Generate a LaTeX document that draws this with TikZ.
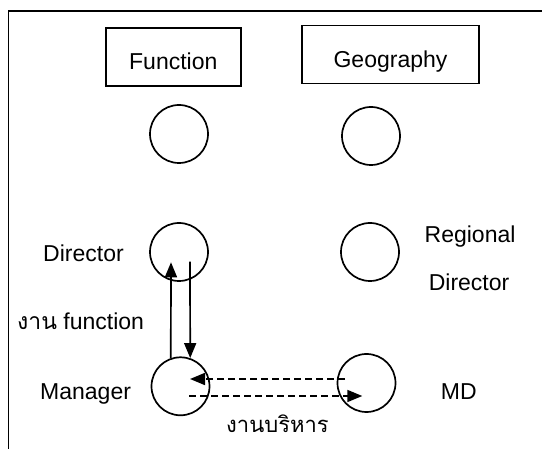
\documentclass[tikz,border=0pt]{standalone}
\usepackage{fontspec}
\setmainfont{Liberation Sans}
\newfontfamily\thaifont[Script=Thai]{Loma}
\usetikzlibrary{arrows.meta,calc}

\tikzset{
  headbox/.style={draw, line width=1.7pt, rectangle, minimum height=58pt,
    inner sep=0pt, font=\fontsize{23}{28}\selectfont, text depth=0pt},
  role/.style={draw, line width=1.7pt, circle, minimum size=58pt, inner sep=0pt},
  lbl/.style={inner sep=0pt, anchor=base west, font=\fontsize{23}{28}\selectfont},
  thailbl/.style={inner sep=0pt, anchor=base west, font=\fontsize{22}{28}\selectfont},
  flow/.style={line width=1.7pt, -{Triangle[length=15pt,width=12pt]}},
  dflow/.style={flow, dash pattern=on 7pt off 4pt}
}

\begin{document}
\begin{tikzpicture}[x=1pt, y=-1pt]
  \useasboundingbox (0,0) rectangle (542,449);
  \clip (0,0) rectangle (542,449);

  % outer frame, running off the right and bottom edges
  \draw[line width=1.7pt] (8.5,470) -- (8.5,11.3) -- (560,11.3);

  % column headings
  \node[headbox, minimum width=134.7pt, text height=26pt] (fbox) at (173.3,57) {Function};
  \node[headbox, minimum width=177pt, text height=27pt] (gbox) at (390.5,54.5) {Geography};

  % role circles
  \node[role] (c1)  at (179,134) {};
  \node[role] (c2)  at (371,136) {};
  \node[role] (dir) at (179,252) {};
  \node[role] (reg) at (370,252) {};
  \node[role] (mgr) at (180.5,386.3) {};
  \node[role] (md)  at (366.5,383) {};

  % role labels
  \node[lbl] (tdir) at (43,262) {Director};
  \node[lbl] (treg) at (424.5,243) {Regional};
  \node[lbl] (tregd) at (428.6,291) {Director};
  \node[lbl] (tfun) at (17,330) {{\thaifont งาน} function};
  \node[lbl] (tmgr) at (40,400) {Manager};
  \node[lbl] (tmd) at (440.7,399.3) {MD};
  \node[thailbl] (tadm) at (226,433) {\thaifont งานบริหาร};

  % arrow ends lying inside the circles
  \coordinate (upTip)    at ($(dir.center)+(-8,10.3)$);
  \coordinate (downTail) at ($(dir.center)+(11,9.7)$);
  \coordinate (leftTail) at ($(md.center)+(-21.5,-4)$);
  \coordinate (leftTip)  at ($(mgr.center)+(9.5,-7.3)$);
  \coordinate (rightTail) at ($(mgr.center)+(8.8,9.7)$);
  \coordinate (rightTip)  at ($(md.center)+(-4.2,13)$);

  % functional line between director and manager
  \draw[flow] (mgr.109) -- (upTip);
  \draw[flow] (downTail) -- (mgr.71);

  % administrative line between manager and MD
  \draw[dflow] (leftTail) -- (leftTip);
  \draw[dflow] (rightTail) -- (rightTip);
\end{tikzpicture}
\end{document}
